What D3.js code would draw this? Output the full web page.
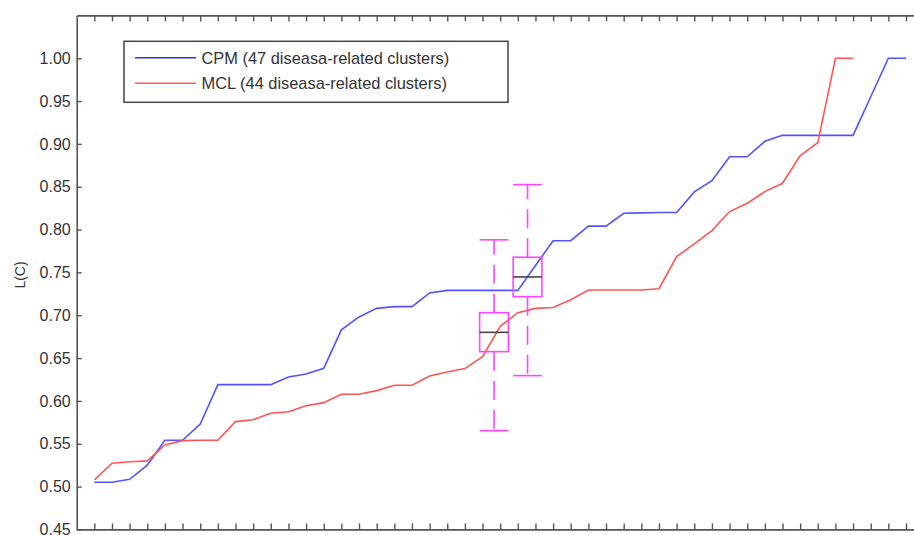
<!DOCTYPE html>
<html>
<head>
<meta charset="utf-8">
<script src="https://cdn.jsdelivr.net/npm/d3@7"></script>
<style>
  html, body { margin: 0; padding: 0; background: #fff; }
  svg { display: block; }
  text { font-family: "Liberation Sans", Arial, sans-serif; }
</style>
</head>
<body>
<svg id="chart" width="914" height="535"></svg>
<script>
// ---- data ----
const cpmValues = [0.505,0.505,0.5085,0.525,0.554,0.554,0.573,0.619,0.619,0.619,
  0.619,0.628,0.6315,0.638,0.683,0.698,0.708,0.710,0.710,0.726,
  0.729,0.729,0.729,0.729,0.729,0.758,0.787,0.787,0.804,0.804,
  0.819,0.8195,0.820,0.820,0.844,0.857,0.885,0.885,0.903,0.910,
  0.910,0.910,0.910,0.910,0.955,1.00,1.00];
const mclValues = [0.5077,0.5272,0.529,0.530,0.5486,0.5536,0.554,0.554,0.5758,0.578,
  0.5856,0.5874,0.5944,0.598,0.6078,0.6078,0.612,0.6183,0.6183,0.629,
  0.6338,0.6377,0.6517,0.687,0.703,0.708,0.709,0.718,0.7295,0.7295,
  0.7295,0.7295,0.731,0.7684,0.7832,0.7988,0.821,0.8307,0.8443,0.854,
  0.886,0.9015,1.00,1.00];
const seriesNames = ["CPM (47 diseasa-related clusters)", "MCL (44 diseasa-related clusters)"];
const boxPositions = [23.65, 25.55];
const boxWhiskerLow = [0.5653, 0.6295];
const boxQ1 = [0.6575, 0.7217];
const boxMedian = [0.680, 0.7447];
const boxQ3 = [0.703, 0.7677];
const boxWhiskerHigh = [0.788, 0.8525];
const yTicks = [0.45,0.50,0.55,0.60,0.65,0.70,0.75,0.80,0.85,0.90,0.95,1.00];
const xTicks = d3.range(1, 48);
const yLabel = "L(C)";

// ---- layout ----
const svg = d3.select("#chart");
const x = d3.scaleLinear().domain([0, 48]).range([76.7, 76.7 + 48 * 17.645]);
const y = d3.scaleLinear().domain([0.45, 1.05]).range([529.4, 15.4]);
const axisColor = "#555";
const textColor = "#333";

// lines
const line = d3.line().x((d, i) => x(i + 1)).y(d => y(d));
svg.append("path").datum(cpmValues).attr("d", line)
  .attr("fill", "none").attr("stroke", "#5252ff").attr("stroke-width", 1.6);
svg.append("path").datum(mclValues).attr("d", line)
  .attr("fill", "none").attr("stroke", "#ff5555").attr("stroke-width", 1.6);

// boxplots
const boxW = 1.63;
const magenta = "#ff45ff";
boxPositions.forEach((p, k) => {
  const g = svg.append("g");
  const x0 = x(p - boxW / 2), x1 = x(p + boxW / 2), xc = x(p);
  g.append("line").attr("x1", xc).attr("x2", xc).attr("y1", y(boxQ3[k])).attr("y2", y(boxWhiskerHigh[k]))
    .attr("stroke", magenta).attr("stroke-width", 1.6).attr("stroke-dasharray", "19,10");
  g.append("line").attr("x1", xc).attr("x2", xc).attr("y1", y(boxQ1[k])).attr("y2", y(boxWhiskerLow[k]))
    .attr("stroke", magenta).attr("stroke-width", 1.6).attr("stroke-dasharray", "19,10");
  [boxWhiskerHigh[k], boxWhiskerLow[k]].forEach(v => {
    g.append("line").attr("x1", x0).attr("x2", x1).attr("y1", y(v)).attr("y2", y(v))
      .attr("stroke", magenta).attr("stroke-width", 1.6);
  });
  g.append("rect").attr("x", x0).attr("y", y(boxQ3[k])).attr("width", x1 - x0)
    .attr("height", y(boxQ1[k]) - y(boxQ3[k]))
    .attr("fill", "none").attr("stroke", magenta).attr("stroke-width", 1.6);
  g.append("line").attr("x1", x0).attr("x2", x1).attr("y1", y(boxMedian[k])).attr("y2", y(boxMedian[k]))
    .attr("stroke", "#444").attr("stroke-width", 1.6);
});

// axes
function styleAxis(g) {
  g.select(".domain").attr("stroke", axisColor).attr("stroke-width", 1.6);
  g.selectAll(".tick line").attr("stroke", axisColor).attr("stroke-width", 1.4);
  g.selectAll(".tick text").attr("fill", textColor).style("font-size", "16px")
    .style("font-family", "'Liberation Sans', Arial, sans-serif");
}
svg.append("g").attr("transform", `translate(0,${y(0.45)})`)
  .call(d3.axisBottom(x).tickValues(xTicks).tickSize(-6).tickSizeOuter(0).tickFormat(""))
  .call(styleAxis);
svg.append("g").attr("transform", `translate(0,${y(1.05)})`)
  .call(d3.axisTop(x).tickValues(xTicks).tickSize(-6).tickSizeOuter(0).tickFormat(""))
  .call(styleAxis);
svg.append("g").attr("transform", `translate(${x(0)},0)`)
  .call(d3.axisLeft(y).tickValues(yTicks).tickSize(-5).tickSizeOuter(0).tickPadding(6).tickFormat(d3.format(".2f")))
  .call(styleAxis);

// y label
svg.append("text").attr("transform", `translate(25,275) rotate(-90)`)
  .attr("text-anchor", "middle").attr("fill", textColor).style("font-size", "14px").text(yLabel);

// legend
const lg = svg.append("g");
lg.append("rect").attr("x", 124).attr("y", 41.3).attr("width", 384).attr("height", 61)
  .attr("fill", "#fff").attr("stroke", "#444").attr("stroke-width", 1.5);
const legColors = ["#2f2fff", "#ff5a5a"];
seriesNames.forEach((name, i) => {
  const ly = 57.7 + i * 25.6;
  lg.append("line").attr("x1", 135).attr("x2", 196).attr("y1", ly).attr("y2", ly)
    .attr("stroke", legColors[i]).attr("stroke-width", 1.6);
  lg.append("text").attr("x", 201.5).attr("y", ly).attr("dy", "0.36em")
    .attr("fill", textColor).style("font-size", "16.4px").text(name);
});
</script>
</body>
</html>
